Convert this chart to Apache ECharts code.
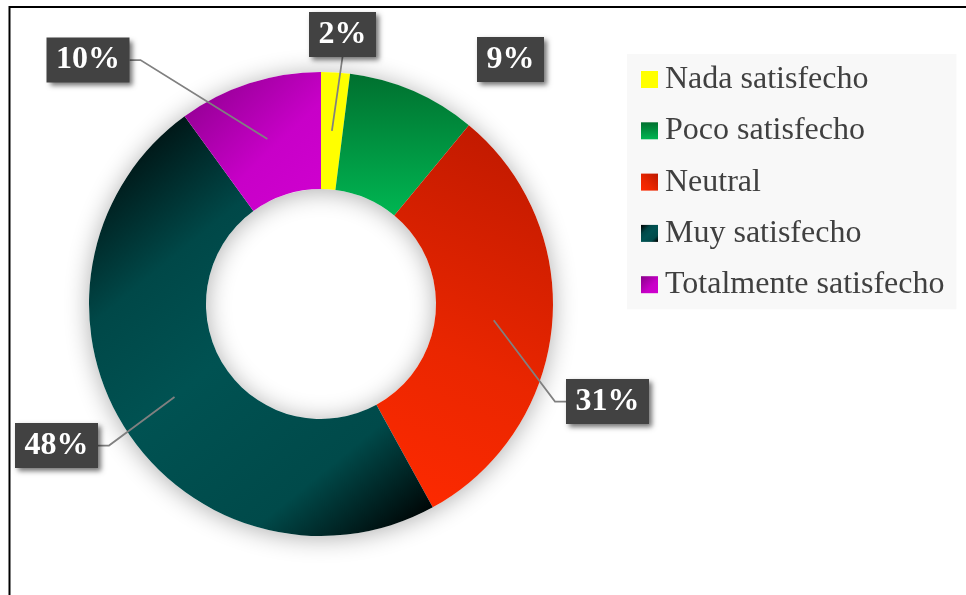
<!DOCTYPE html>
<html>
<head>
<meta charset="utf-8">
<script src="https://cdn.jsdelivr.net/npm/echarts@6/dist/echarts.min.js"></script>
<style>
  html, body { margin: 0; padding: 0; background: #ffffff; }
  #chart { width: 966px; height: 595px; }
</style>
</head>
<body>
<div id="chart"></div>
<script>
// Survey answers and their share of respondents (%)
const categories = ['Nada satisfecho', 'Poco satisfecho', 'Neutral', 'Muy satisfecho', 'Totalmente satisfecho'];
const shares = [2, 9, 31, 48, 10];

// Ring geometry (px)
const CX = 321, CY = 304, R_IN = 115, R_OUT = 232;

// Where each percentage box sits and which side its leader line leaves from
const labelSpots = [
  { x: 342.5, y: 34.5,  side: 'bottom' },
  { x: 510.5, y: 59.5,  side: 'none' },
  { x: 607.5, y: 401.5, side: 'left' },
  { x: 56.5,  y: 445.5, side: 'right' },
  { x: 88,    y: 60,    side: 'right' }
];

const lg = (x, y, x2, y2, stops) =>
  new echarts.graphic.LinearGradient(x, y, x2, y2, stops.map(([o, c]) => ({ offset: o, color: c })));

const fills = [
  '#FFFF00',
  lg(0, 0, 0, 1, [[0, '#00702F'], [1, '#00B652']]),
  lg(1, 0, 0, 1, [[0, '#BC1800'], [0.6, '#EA2600'], [1, '#FF2A00']]),
  lg(0, 0, 1, 1, [[0, '#000000'], [0.1, '#001616'], [0.3, '#004848'], [0.5, '#005252'],
                  [0.78, '#004A4A'], [0.95, '#000A0A'], [1, '#000000']]),
  lg(0, 0, 1, 1, [[0, '#880088'], [0.6, '#C800C8'], [1, '#D000D0']])
];

const total = shares.reduce((a, b) => a + b, 0);

// Middle of a slice, halfway across the ring (clockwise from 12 o'clock)
function anchorOf(i) {
  let before = 0;
  for (let k = 0; k < i; k++) before += shares[k];
  const a = (before + shares[i] / 2) / total * 2 * Math.PI;
  const r = (R_IN + R_OUT) / 2;
  return [CX + r * Math.sin(a), CY - r * Math.cos(a)];
}

const ring = {
  type: 'pie',
  center: [CX, CY],
  radius: [R_IN, R_OUT],
  startAngle: 90,
  clockwise: true,
  avoidLabelOverlap: false,
  emphasis: { disabled: true }
};

const chart = echarts.init(document.getElementById('chart'), null, { renderer: 'canvas' });

const option = {
  backgroundColor: '#ffffff',
  animation: false,
  graphic: [{
    type: 'polyline',
    shape: { points: [[9.5, 600], [9.5, 7], [975, 7]] },
    style: { stroke: '#000000', lineWidth: 2, fill: null },
    silent: true,
    z: 100
  }],
  legend: {
    orient: 'vertical',
    left: 627,
    top: 54,
    data: categories,
    icon: 'rect',
    itemWidth: 17,
    itemHeight: 17,
    itemGap: 19.3,
    selectedMode: false,
    backgroundColor: '#F8F8F8',
    padding: [9.5, 12, 8.5, 14],
    textStyle: {
      fontFamily: 'Liberation Serif',
      fontSize: 32,
      lineHeight: 32,
      color: '#404040',
      padding: [0, 0, 0, 2]
    }
  },
  series: [
    {
      // soft halo beneath the ring
      type: 'pie',
      silent: true,
      center: [CX, CY],
      radius: [R_IN, R_OUT],
      label: { show: false },
      labelLine: { show: false },
      itemStyle: {
        color: '#ffffff',
        shadowBlur: 24,
        shadowColor: 'rgba(0,0,0,0.32)',
        shadowOffsetY: 2
      },
      data: [{ value: 1, name: '' }],
      z: 1
    },
    Object.assign({}, ring, {
      // coloured slices
      label: { show: false },
      labelLine: { show: false },
      itemStyle: { borderWidth: 0 },
      data: categories.map((name, i) => ({ name, value: shares[i], itemStyle: { color: fills[i] } })),
      z: 2
    }),
    Object.assign({}, ring, {
      // transparent twin carrying the percentage boxes and leader lines above the slices
      silent: true,
      itemStyle: { color: 'rgba(0,0,0,0)', borderWidth: 0 },
      data: categories.map((name, i) => ({ name, value: shares[i] })),
      label: {
        show: true,
        position: 'outside',
        formatter: '{c}%',
        color: '#ffffff',
        fontFamily: 'Liberation Serif',
        fontWeight: 'bold',
        fontSize: 32,
        lineHeight: 32,
        backgroundColor: '#424242',
        padding: [6.5, 9.5],
        shadowColor: 'rgba(0,0,0,0.55)',
        shadowBlur: 5,
        shadowOffsetX: 3,
        shadowOffsetY: 3
      },
      labelLine: {
        show: true,
        showAbove: true,
        lineStyle: { color: '#808080', width: 1.75 }
      },
      labelLayout: function (p) {
        const s = labelSpots[p.dataIndex];
        const hw = p.labelRect.width / 2, hh = p.labelRect.height / 2;
        const a = anchorOf(p.dataIndex);
        let pts;
        if (s.side === 'bottom') {
          pts = [a, [s.x, s.y + hh], [s.x, s.y + hh]];
        } else if (s.side === 'left') {
          pts = [a, [s.x - hw - 11, s.y], [s.x - hw, s.y]];
        } else if (s.side === 'right') {
          pts = [a, [s.x + hw + 11, s.y], [s.x + hw, s.y]];
        } else {
          pts = [[s.x, s.y], [s.x, s.y], [s.x, s.y]];
        }
        return {
          x: s.x,
          y: s.y,
          align: 'center',
          verticalAlign: 'middle',
          labelLinePoints: pts
        };
      },
      z: 3
    })
  ]
};

chart.setOption(option);
</script>
</body>
</html>
